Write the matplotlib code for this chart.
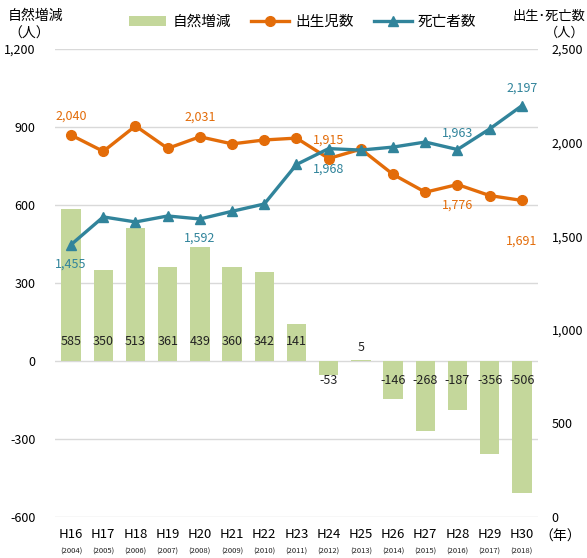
import matplotlib.pyplot as plt
import numpy as np

plt.rcParams['font.family'] = ['Noto Sans CJK JP', 'DejaVu Sans']

# data
years = ['H16', 'H17', 'H18', 'H19', 'H20', 'H21', 'H22', 'H23',
         'H24', 'H25', 'H26', 'H27', 'H28', 'H29', 'H30']
western = ['2004', '2005', '2006', '2007', '2008', '2009', '2010', '2011',
           '2012', '2013', '2014', '2015', '2016', '2017', '2018']
natural = [585, 350, 513, 361, 439, 360, 342, 141, -53, 5, -146, -268, -187, -356, -506]
births = [2040, 1953, 2089, 1969, 2031, 1993, 2014, 2024, 1915, 1965, 1830, 1735, 1776, 1717, 1691]
deaths = [1455, 1603, 1576, 1608, 1592, 1633, 1672, 1883, 1968, 1960, 1976, 2003, 1963, 2073, 2197]

green = '#C4D79B'
orange = '#E36C09'
teal = '#31849B'
grid = '#D9D9D9'

x = np.arange(len(years))

fig = plt.figure(figsize=(5.87, 5.58), dpi=100)
ax = fig.add_axes([0.0937, 0.0735, 0.8228, 0.8387])
ax2 = ax.twinx()

ax.bar(x, natural, width=0.6, color=green, label='自然増減', zorder=2)
ax.set_ylim(-600, 1200)
ax.set_yticks(range(-600, 1201, 300))
ax.set_yticklabels([f'{v:,}' for v in range(-600, 1201, 300)])
ax.grid(axis='y', color=grid, linewidth=1, zorder=0)
ax.set_axisbelow(True)
ax.set_xlim(-0.5, len(years) - 0.5)
ax.set_xticks(x)
ax.set_xticklabels(years)
ax.tick_params(axis='both', length=0, labelsize=9)
ax.tick_params(axis='y', pad=14)
ax.tick_params(axis='x', pad=8, labelsize=9.5)

for i, v in enumerate(natural):
    off = 14 if v >= 0 else -14
    if v == 5:
        off = 10
    ax.annotate(str(v), (x[i], 0), xytext=(0, off), textcoords='offset points',
                ha='center', va='center', fontsize=9, color='#222222', zorder=5)

for i, w in enumerate(western):
    ax.annotate(f'({w})', (x[i], 0), xycoords=('data', 'axes fraction'),
                xytext=(0, -25), textcoords='offset points',
                ha='center', va='center', fontsize=5.5, color='#222222')

ax2.plot(x, births, color=orange, linewidth=2.4, marker='o', markersize=7,
         label='出生児数', zorder=3)
ax2.plot(x, deaths, color=teal, linewidth=2.4, marker='^', markersize=7,
         label='死亡者数', zorder=4)
ax2.set_ylim(0, 2500)
ax2.set_yticks(range(0, 2501, 500))
ax2.set_yticklabels([f'{v:,}' for v in range(0, 2501, 500)])
ax2.tick_params(axis='y', length=0, labelsize=9, pad=10)

for s in list(ax.spines.values()) + list(ax2.spines.values()):
    s.set_visible(False)

# line labels: (index, offset in points)
birth_labels = [(0, 14), (4, 14), (8, 13), (12, -15), (14, -29)]
death_labels = [(0, -14), (4, -14), (8, -15), (12, 12), (14, 13)]
for i, off in birth_labels:
    ax2.annotate(f'{births[i]:,}', (x[i], births[i]), xytext=(0, off),
                 textcoords='offset points', ha='center', va='center',
                 fontsize=9, color=orange)
for i, off in death_labels:
    ax2.annotate(f'{deaths[i]:,}', (x[i], deaths[i]), xytext=(0, off),
                 textcoords='offset points', ha='center', va='center',
                 fontsize=9, color=teal)

# axis titles
fig.text(36 / 587, 1 - 16 / 558, '自然増減', ha='center', va='center', fontsize=10)
fig.text(29 / 587, 1 - 34 / 558, '（人）', ha='center', va='center', fontsize=10)
fig.text(549 / 587, 1 - 16 / 558, '出生･死亡数', ha='center', va='center', fontsize=9.5)
fig.text(565 / 587, 1 - 33 / 558, '（人）', ha='center', va='center', fontsize=9.5)
fig.text(560 / 587, 1 - 537 / 558, '（年）', ha='center', va='center', fontsize=10)

h1, l1 = ax.get_legend_handles_labels()
h2, l2 = ax2.get_legend_handles_labels()
fig.legend(h1 + h2, l1 + l2, loc='center', bbox_to_anchor=(0.515, 1 - 22 / 558),
           ncol=3, frameon=False, fontsize=10.5, handlelength=2.6,
           columnspacing=1.4, handletextpad=0.4)

fig.savefig('out.png', dpi=100)
